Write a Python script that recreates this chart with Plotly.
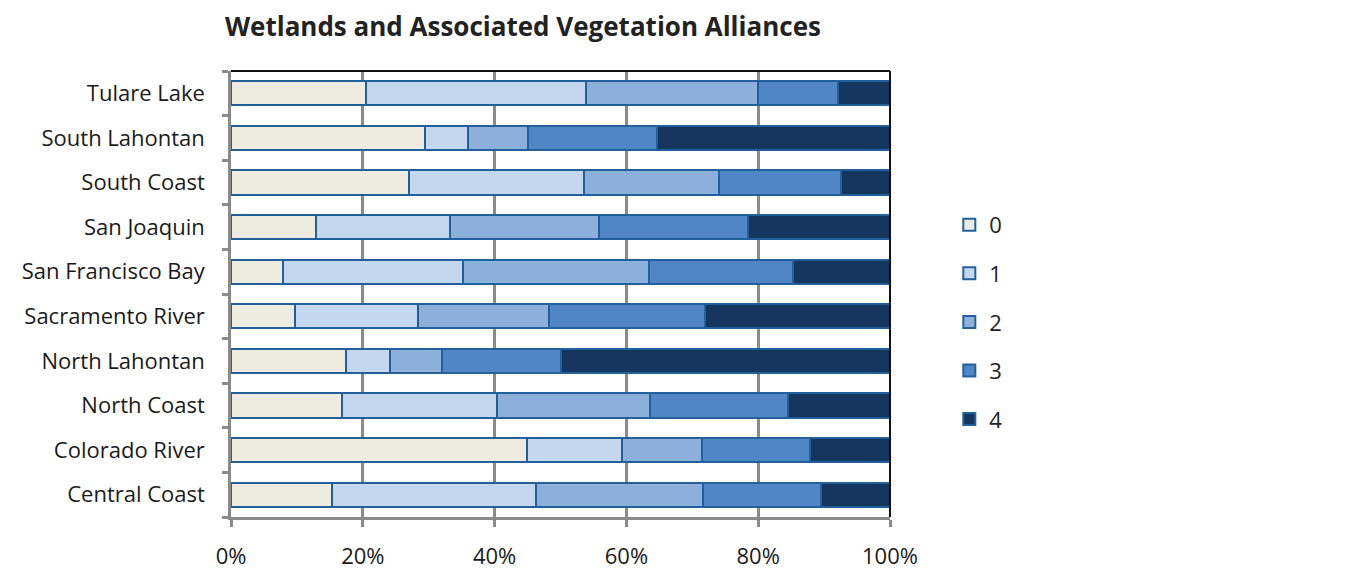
import plotly.graph_objects as go

regions = ["Central Coast", "Colorado River", "North Coast", "North Lahontan",
           "Sacramento River", "San Francisco Bay", "San Joaquin", "South Coast",
           "South Lahontan", "Tulare Lake"]

s0 = [15.4, 44.9, 16.8, 17.5, 9.7, 7.9, 12.9, 27.0, 29.5, 20.5]
s1 = [30.9, 14.4, 23.6, 6.6, 18.6, 27.3, 20.4, 26.6, 6.5, 33.3]
s2 = [25.3, 12.2, 23.2, 7.9, 19.9, 28.3, 22.6, 20.4, 9.1, 26.2]
s3 = [18.0, 16.3, 20.9, 18.0, 23.8, 21.8, 22.6, 18.5, 19.5, 12.1]
s4 = [10.4, 12.2, 15.5, 50.0, 28.0, 14.7, 21.5, 7.5, 35.4, 7.9]

series_names = ["0", "1", "2", "3", "4"]
series_vals = [s0, s1, s2, s3, s4]
colors = ["#EEECE1", "#C5D7EF", "#8DB0DB", "#5085C6", "#14365E"]

tickvals = [0, 20, 40, 60, 80, 100]
ticktext = ["0%", "20%", "40%", "60%", "80%", "100%"]

FONT = "Open Sans"

fig = go.Figure()
for name, vals, col in zip(series_names, series_vals, colors):
    fig.add_trace(go.Bar(
        y=regions, x=vals, name=name, orientation="h",
        marker=dict(color=col, line=dict(color="#22609B", width=2)),
        legendgroup=name,
    ))

fig.update_layout(
    barmode="stack",
    bargap=0.46,
    width=1345, height=568,
    margin=dict(l=223, r=463, t=63, b=59, autoexpand=False),
    paper_bgcolor="white", plot_bgcolor="white",
    font=dict(family=FONT, size=22, color="#1a1a1a"),
    title=dict(text="<b>Wetlands and Associated Vegetation Alliances</b>",
               x=0.443, xref="paper", xanchor="center",
               y=0.9665, yref="container", yanchor="middle",
               font=dict(family=FONT, size=26, color="#222222")),
    legend=dict(x=1.09, y=0.702, xanchor="left", yanchor="top",
                traceorder="grouped", tracegroupgap=17,
                font=dict(family=FONT, size=22, color="#222222"),
                itemwidth=30),
    showlegend=True,
)

fig.update_xaxes(
    range=[0, 100], tickvals=tickvals, ticktext=ticktext,
    showgrid=True, gridcolor="#8A8A8A", gridwidth=2.5,
    showline=True, linecolor="#8A8A8A", linewidth=2.5,
    ticks="outside", ticklen=7, tickwidth=2.5, tickcolor="#8A8A8A",
    ticklabelstandoff=11, zeroline=False, automargin=False,
    tickfont=dict(family=FONT, size=22, color="#1a1a1a"),
)
fig.update_yaxes(
    type="category", categoryorder="array", categoryarray=regions,
    showgrid=False, showline=True, linecolor="#8A8A8A", linewidth=2.5,
    ticks="outside", tickson="boundaries", ticklen=6, tickwidth=2.5,
    tickcolor="#8A8A8A", ticklabelstandoff=19, automargin=False,
    tickfont=dict(family=FONT, size=22, color="#1a1a1a"),
)

# plot-area border on top and right
fig.add_shape(type="line", xref="paper", yref="paper", x0=0, x1=1, y0=1, y1=1,
              line=dict(color="#111111", width=2))
fig.add_shape(type="line", xref="paper", yref="paper", x0=1, x1=1, y0=0, y1=1,
              line=dict(color="#111111", width=2))

fig.write_html("out.html")
